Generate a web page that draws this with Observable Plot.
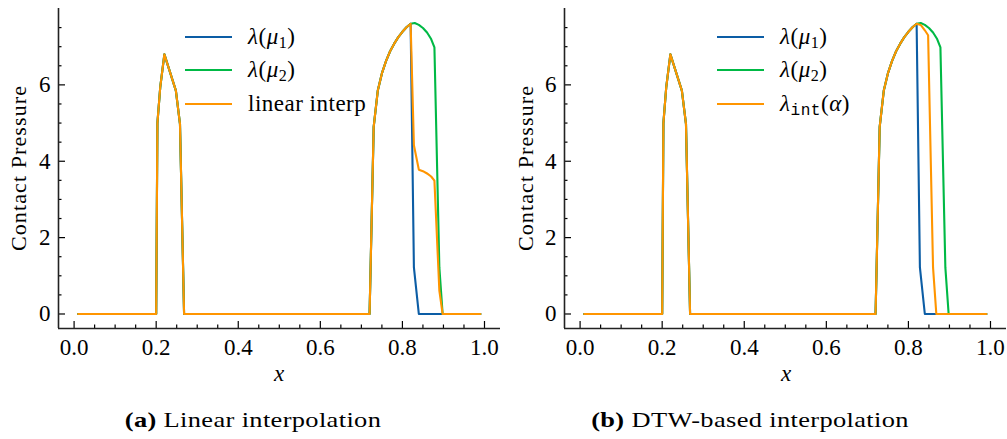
<!DOCTYPE html>
<html><head><meta charset="utf-8">
<script src="https://cdn.jsdelivr.net/npm/d3@7"></script>
<script src="https://cdn.jsdelivr.net/npm/@observablehq/plot@0.6"></script>
<style>
html,body{margin:0;padding:0;background:#fff;}
body{width:1007px;height:439px;overflow:hidden;color:#000;}
#wrap, #wrap *{font-family:"Liberation Serif","Times New Roman","DejaVu Serif" !important;}
#wrap .mono{font-family:"Liberation Mono","DejaVu Sans Mono" !important;}
#wrap{position:relative;width:1007px;height:439px;overflow:hidden;}
.panel{position:absolute;top:0;}
.ylab{position:absolute;font-size:22px;letter-spacing:1.1px;transform:translate(-50%,-50%) rotate(-90deg);white-space:nowrap;}
.xlab{position:absolute;font-size:23px;font-style:italic;transform:translate(-50%,-50%);}
.legend{position:absolute;font-size:23px;letter-spacing:0.5px;}
.legend .row{display:flex;align-items:center;height:33.5px;}
.legend .sw{width:47px;height:0;border-top:2.2px solid;margin-right:16px;}
.cap{position:absolute;font-size:22px;letter-spacing:0.3px;transform:translate(-50%,-50%) scaleX(1.2);white-space:nowrap;}
sub{font-size:0.7em;vertical-align:-0.25em;line-height:0;}
</style></head>
<body><div id="wrap"></div>
<script>
// ---- data ----
const blueX  = [0.01, 0.20, 0.203, 0.21, 0.22, 0.248, 0.258, 0.268, 0.72, 0.73, 0.74, 0.75, 0.76, 0.77, 0.78, 0.79, 0.80, 0.81, 0.82, 0.828, 0.84, 0.99];
const blueY  = [0, 0, 5.0, 5.95, 6.8, 5.85, 4.98, 0, 0, 4.9, 5.85, 6.3, 6.62, 6.88, 7.08, 7.25, 7.39, 7.51, 7.6, 1.22, 0, 0];
const greenX = [0.01, 0.20, 0.203, 0.21, 0.22, 0.248, 0.258, 0.268, 0.72, 0.73, 0.74, 0.75, 0.76, 0.77, 0.78, 0.79, 0.80, 0.81, 0.82, 0.83, 0.84, 0.85, 0.86, 0.87, 0.878, 0.89, 0.898, 0.99];
const greenY = [0, 0, 5.0, 5.95, 6.8, 5.85, 4.98, 0, 0, 4.9, 5.85, 6.3, 6.62, 6.88, 7.08, 7.25, 7.39, 7.51, 7.6, 7.62, 7.57, 7.49, 7.37, 7.2, 6.98, 1.22, 0, 0];
const linX   = [0.01, 0.20, 0.203, 0.21, 0.22, 0.248, 0.258, 0.268, 0.72, 0.73, 0.74, 0.75, 0.76, 0.77, 0.78, 0.79, 0.80, 0.81, 0.82, 0.828, 0.84, 0.85, 0.86, 0.87, 0.878, 0.89, 0.898, 0.99];
const linY   = [0, 0, 5.0, 5.95, 6.8, 5.85, 4.98, 0, 0, 4.9, 5.85, 6.3, 6.62, 6.88, 7.08, 7.25, 7.39, 7.51, 7.6, 4.42, 3.78, 3.74, 3.68, 3.6, 3.49, 0.61, 0, 0];
const dtwX   = [0.01, 0.20, 0.203, 0.21, 0.22, 0.248, 0.258, 0.268, 0.72, 0.73, 0.74, 0.75, 0.76, 0.77, 0.78, 0.79, 0.80, 0.81, 0.82, 0.83, 0.84, 0.848, 0.86, 0.868, 0.99];
const dtwY   = [0, 0, 5.0, 5.95, 6.8, 5.85, 4.98, 0, 0, 4.9, 5.85, 6.3, 6.62, 6.88, 7.08, 7.25, 7.39, 7.51, 7.6, 7.57, 7.43, 7.3, 1.22, 0, 0];

const xMajor = [0, 0.2, 0.4, 0.6, 0.8, 1.0];
const xMinor = [0.05, 0.1, 0.15, 0.25, 0.3, 0.35, 0.45, 0.5, 0.55, 0.65, 0.7, 0.75, 0.85, 0.9, 0.95];
const yMajor = [0, 2, 4, 6];
const yMinor = [0.5, 1, 1.5, 2.5, 3, 3.5, 4.5, 5, 5.5, 6.5, 7, 7.5];

const colBlue = "#0C5DA5", colGreen = "#00B945", colOrange = "#FF9500";
const xDom = [-0.038, 1.039], yDom = [-0.38, 8.0];
const serif = "'Liberation Serif', 'Times New Roman', 'DejaVu Serif'";

function rows(xs, ys) { return xs.map((x, i) => ({x, y: ys[i]})); }

function panel(orX, orY) {
  return Plot.plot({
    width: 510, height: 390,
    marginLeft: 58, marginRight: 10, marginTop: 8, marginBottom: 62,
    x: {domain: xDom},
    y: {domain: yDom},
    style: {fontFamily: serif, fontSize: "23px", background: "transparent", color: "#000", overflow: "visible"},
    marks: [
      Plot.line(rows(blueX, blueY), {x: "x", y: "y", stroke: colBlue, strokeWidth: 2.1}),
      Plot.line(rows(greenX, greenY), {x: "x", y: "y", stroke: colGreen, strokeWidth: 2.1}),
      Plot.line(rows(orX, orY), {x: "x", y: "y", stroke: colOrange, strokeWidth: 2.1}),
      Plot.axisX({ticks: xMajor, tickSize: -7, tickPadding: 17, tickFormat: d3.format(".1f"), label: null, strokeWidth: 1.2, fontFamily: serif}),
      Plot.axisX({ticks: xMinor, tickSize: -3.5, tickFormat: () => "", label: null, strokeWidth: 1.2}),
      Plot.axisY({ticks: yMajor, tickSize: -7, tickPadding: 15, tickFormat: d => String(d), label: null, strokeWidth: 1.2, fontFamily: serif}),
      Plot.axisY({ticks: yMinor, tickSize: -3.5, tickFormat: () => "", label: null, strokeWidth: 1.2}),
      Plot.ruleX([xDom[0]], {stroke: "#222", strokeWidth: 1.6}),
      Plot.ruleY([yDom[0]], {stroke: "#222", strokeWidth: 1.6})
    ]
  });
}

const wrap = document.getElementById("wrap");
function place(el, left) { el.classList.add("panel"); el.style.left = left + "px"; wrap.appendChild(el); }
place(panel(linX, linY), 0);
place(panel(dtwX, dtwY), 506);

function addDiv(cls, html, left, top) {
  const d = document.createElement("div");
  d.className = cls; d.innerHTML = html;
  d.style.left = left + "px"; d.style.top = top + "px";
  wrap.appendChild(d); return d;
}
const leg1 = ["<i>λ</i>(<i>μ</i><sub>1</sub>)", "<i>λ</i>(<i>μ</i><sub>2</sub>)", "linear interp"];
const leg2 = ["<i>λ</i>(<i>μ</i><sub>1</sub>)", "<i>λ</i>(<i>μ</i><sub>2</sub>)", "<i>λ</i><sub class=\"mono\">int</sub>(<i>α</i>)"];
const legCols = [colBlue, colGreen, colOrange];
function legend(labels, left) {
  const html = labels.map((t, i) => `<div class="row"><div class="sw" style="border-color:${legCols[i]}"></div><span>${t}</span></div>`).join("");
  addDiv("legend", html, left, 20);
}
legend(leg1, 185);
legend(leg2, 717);

addDiv("ylab", "Contact Pressure", 19, 168);
addDiv("ylab", "Contact Pressure", 526, 168);
addDiv("xlab", "x", 279, 374);
addDiv("xlab", "x", 786, 374);
addDiv("cap", "<b>(a)</b> Linear interpolation", 253, 420);
addDiv("cap", "<b>(b)</b> DTW-based interpolation", 750, 420);
</script>
</body></html>
